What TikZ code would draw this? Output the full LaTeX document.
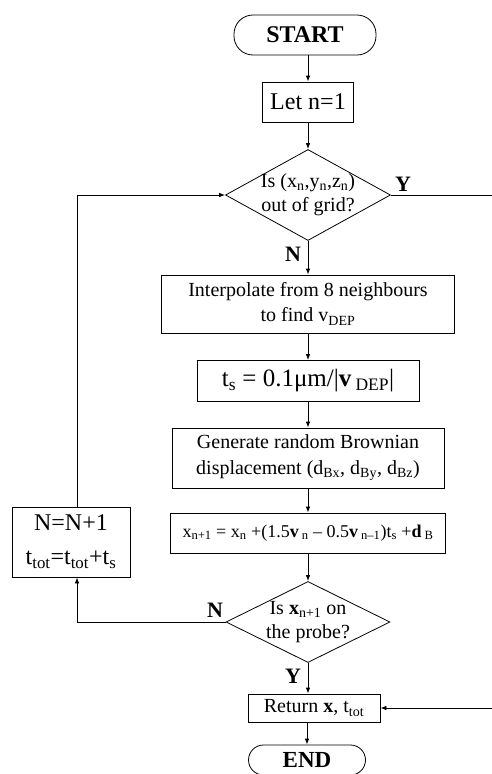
\documentclass[tikz,border=0pt]{standalone}
\usepackage{fontspec}
\setmainfont{Liberation Serif}
\usetikzlibrary{arrows.meta, shapes.geometric, calc}

\newcommand{\sbs}[2]{#1\textsubscript{#2}}

\begin{document}
\begin{tikzpicture}[x=1pt, y=-1pt, line width=0.8pt,
        box/.style={draw, rectangle, align=center, inner sep=1pt},
        term/.style={draw, rectangle, rounded corners=15pt, align=center, inner sep=0pt},
        decide/.style={draw, diamond, align=center, shape aspect=1.8, inner xsep=-22pt, inner ysep=-12pt},
        arr/.style={-{Latex[length=6pt,width=4.5pt]}},
        yn/.style={font=\fontsize{22}{22}\selectfont\bfseries}]
    \useasboundingbox (0,0) rectangle (491,774);

    % main column
    \node[term, minimum width=142pt, minimum height=40pt, rounded corners=19pt, font=\fontsize{24}{24}\selectfont\bfseries]
        (start) at (305,35) {START};
    \node[box, minimum width=91pt, minimum height=40pt, font=\fontsize{24}{24}\selectfont]
        (let) at (308,102) {Let n=1};
    \node[decide, minimum width=165pt, minimum height=91pt, font=\fontsize{20}{24}\selectfont]
        (grid) at (308,195) {Is (\sbs{x}{n},\sbs{y}{n},\sbs{z}{n})\\out of grid?};
    \node[box, minimum width=293pt, minimum height=58pt, font=\fontsize{20}{25}\selectfont]
        (interp) at (308,304) {Interpolate from 8 neighbours\\to find \sbs{v}{DEP}};
    \node[box, minimum width=222pt, minimum height=41pt, font=\fontsize{25}{25}\selectfont]
        (tstep) at (308,381) {\sbs{t}{s} = 0.1μm/|\textbf{v}\,\textsubscript{DEP}|};
    \node[box, minimum width=272pt, minimum height=60pt, font=\fontsize{20}{26}\selectfont]
        (brown) at (308,458) {Generate random Brownian\\displacement (\sbs{d}{Bx}, \sbs{d}{By}, \sbs{d}{Bz})};
    \node[box, minimum width=275pt, minimum height=40pt, font=\fontsize{18}{18}\selectfont]
        (update) at (308,533) {\sbs{x}{n+1} = \sbs{x}{n} +(1.5\textbf{v}\,\textsubscript{n} -- 0.5\textbf{v}\,\textsubscript{n--1})\sbs{t}{s} +\textbf{d}\,\textsubscript{B}};
    \node[decide, minimum width=164pt, minimum height=81pt, font=\fontsize{20}{24}\selectfont]
        (probe) at (308,622) {Is \textbf{x}\textsubscript{n+1} on\\the probe?};
    \node[box, minimum width=132pt, minimum height=28pt, font=\fontsize{20}{20}\selectfont]
        (ret) at (314,708) {Return \textbf{x}, \sbs{t}{tot}};
    \node[term, minimum width=117pt, minimum height=30pt, font=\fontsize{23}{23}\selectfont\bfseries]
        (stop) at (307,760) {END};

    % loop box on the left
    \node[box, minimum width=118pt, minimum height=70pt, font=\fontsize{24}{34}\selectfont]
        (count) at (71,542) {N=N+1\\\sbs{t}{tot}=\sbs{t}{tot}+\sbs{t}{s}};

    % Y / N labels
    \node[yn] (gridY) at (403,184) {Y};
    \node[yn] (gridN) at (293,254) {N};
    \node[yn] (probeN) at (215,610) {N};
    \node[yn] (probeY) at (293,676) {Y};

    \coordinate (rightside) at (494,708);

    % connectors
    \draw[arr] (start.south -| let.north) -- (let);
    \draw[arr] (let) -- (grid);
    \draw[arr] (grid) -- (interp);
    \draw[arr] (interp) -- (tstep);
    \draw[arr] (tstep) -- (brown);
    \draw[arr] (brown) -- (update);
    \draw[arr] (update) -- (probe);
    \draw[arr] (probe.south) -- (probe.south |- ret.north);
    \draw[arr] (ret.south -| stop.north) -- (stop.north);
    \draw[arr] (probe.west) -| ([xshift=6pt]count.south);
    \draw[arr] ([xshift=6pt]count.north) |- (grid.west);
    \draw[arr] (grid.east) -| (rightside) -- (ret.east);
\end{tikzpicture}
\end{document}
